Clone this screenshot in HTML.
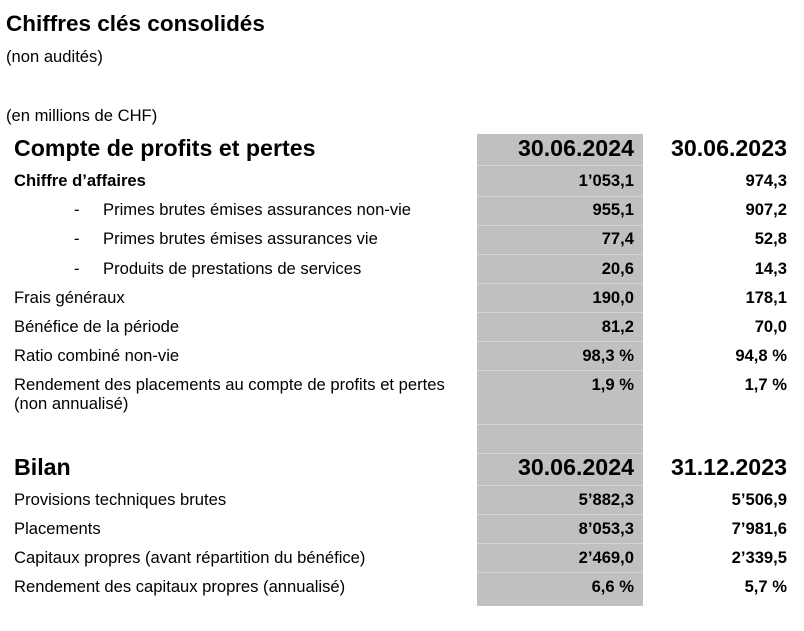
<!DOCTYPE html>
<html><head><meta charset="utf-8"><style>
body{margin:0;width:804px;height:631px;background:#fff;position:relative;font-family:"Liberation Sans",Arial,sans-serif;color:#000;overflow:hidden}
.t{position:absolute;white-space:nowrap;line-height:1}
.r{text-align:right}
.b{font-weight:bold}
.n{font-size:16.6px}
.h{font-size:23.2px;font-weight:bold}
.sep{position:absolute;left:477px;width:166px;height:1px;background:#d4d4d4}
</style></head><body>
<div class="t b" style="left:6px;top:13px;font-size:22.5px">Chiffres clés consolidés</div>
<div class="t n" style="left:6px;top:49px">(non audités)</div>
<div class="t n" style="left:6px;top:108px">(en millions de CHF)</div>
<div style="position:absolute;left:477px;top:134px;width:166px;height:472px;background:#c0c0c0"></div>
<div id="seps"></div>
<div id="rows"></div>
<script>
const labels=["Compte de profits et pertes","Chiffre d’affaires","Primes brutes émises assurances non-vie","Primes brutes émises assurances vie","Produits de prestations de services","Frais généraux","Bénéfice de la période","Ratio combiné non-vie","Rendement des placements au compte de profits et pertes","Bilan","Provisions techniques brutes","Placements","Capitaux propres (avant répartition du bénéfice)","Rendement des capitaux propres (annualisé)"];
const col1=["30.06.2024","1’053,1","955,1","77,4","20,6","190,0","81,2","98,3 %","1,9 %","30.06.2024","5’882,3","8’053,3","2’469,0","6,6 %"];
const col2=["30.06.2023","974,3","907,2","52,8","14,3","178,1","70,0","94,8 %","1,7 %","31.12.2023","5’506,9","7’981,6","2’339,5","5,7 %"];
const ys=[148,181,210,239,269,298,327,356,385,467,500,529,558,587];
const kind=["h","b","sub","sub","sub","","","","","h","","","",""];
const rows=document.getElementById('rows');
function add(html,name){const d=document.createElement('div');d.innerHTML=html;const e=d.firstChild;


rows.appendChild(e);}
labels.forEach((l,i)=>{
 const k=kind[i],y=ys[i];
 if(k==="h"){
  add(`<div class="t h" style="left:14px;top:${y-11}px">${l}</div>`,'section-header');
  add(`<div class="t h r" style="left:434px;width:200px;top:${y-11}px">${col1[i]}</div>`,'header-current');
  add(`<div class="t h r" style="left:587px;width:200px;top:${y-11}px">${col2[i]}</div>`,'header-previous');
 } else {
  if(k==="sub"){
   add(`<div class="t n" style="left:74px;top:${y-8}px">-</div>`,'bullet-dash');
   add(`<div class="t n" style="left:103px;top:${y-8}px">${l}</div>`,'row-label');
  } else {
   add(`<div class="t n ${k==='b'?'b':''}" style="left:14px;top:${y-8}px">${l}</div>`,'row-label');
  }
  add(`<div class="t n b r" style="left:434px;width:200px;top:${y-8}px">${col1[i]}</div>`,'value-current');
  add(`<div class="t n b r" style="left:587px;width:200px;top:${y-8}px">${col2[i]}</div>`,'value-previous');
 }
});
add(`<div class="t n" style="left:14px;top:396px">(non annualisé)</div>`,'row-label-cont');
const sepYs=[165,196,225,254,283,312,341,370,424,453,485,514,543,572];
const s=document.getElementById('seps');
sepYs.forEach(y=>{const e=document.createElement('div');e.className='sep';e.style.top=y+'px';


s.appendChild(e);});
</script>
</body></html>
